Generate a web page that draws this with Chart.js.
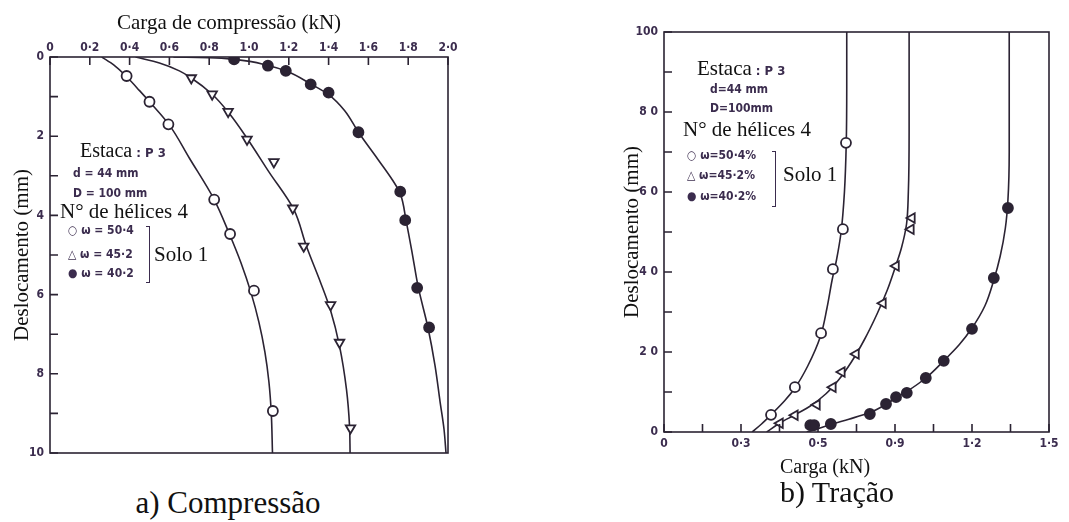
<!DOCTYPE html>
<html>
<head>
<meta charset="utf-8">
<script src="https://cdn.jsdelivr.net/npm/chart.js@4.4.1/dist/chart.umd.min.js"></script>
<style>
body{margin:0;background:#fff}
#wrap{position:relative;width:1069px;height:522px;overflow:hidden;background:#fff}
.box{position:absolute}
.t{position:absolute;white-space:nowrap;line-height:1;color:#111}
.serif{font-family:"Liberation Serif","Times New Roman",serif}
.sans{font-family:"Liberation Sans Narrow","DejaVu Sans Condensed",sans-serif;font-weight:bold;color:#3b2c4e;font-size:12px}
.brk{position:absolute;border:1.5px solid #3b2c4e;border-left:none}
</style>
</head>
<body>
<div id="wrap">
  <div class="box" style="left:0;top:0"><canvas id="comp" width="480" height="480"></canvas></div>
  <div class="box" style="left:560px;top:0"><canvas id="trac" width="509" height="480"></canvas></div>

  <!-- a) compressao -->
  <div class="t serif" style="left:229px;top:12px;font-size:21px;transform:translateX(-50%)">Carga de compressão (kN)</div>
  <div class="t serif" style="left:80px;top:140px;font-size:20px">Estaca<span class="sans" style="font-size:13px"> : P 3</span></div>
  <div class="t sans" style="left:73px;top:167px">d = 44 mm</div>
  <div class="t sans" style="left:73px;top:187px">D = 100 mm</div>
  <div class="t serif" style="left:60px;top:201px;font-size:21px">N° de hélices 4</div>
  <div class="t sans" style="left:68px;top:224px">○ ω = 50·4</div>
  <div class="t sans" style="left:68px;top:248px">△ ω = 45·2</div>
  <div class="t sans" style="left:68px;top:267px">● ω = 40·2</div>
  <div class="brk" style="left:146px;top:226px;width:3px;height:55px"></div>
  <div class="t serif" style="left:154px;top:244px;font-size:21px">Solo 1</div>
  <div class="t serif" style="left:228px;top:487px;font-size:31px;transform:translateX(-50%)">a) Compressão</div>

  <!-- b) tracao -->
  <div class="t serif" style="left:697px;top:58px;font-size:21px">Estaca<span class="sans" style="font-size:13px"> : P 3</span></div>
  <div class="t sans" style="left:710px;top:83px">d=44 mm</div>
  <div class="t sans" style="left:710px;top:102px">D=100mm</div>
  <div class="t serif" style="left:683px;top:119px;font-size:21px">N° de hélices 4</div>
  <div class="t sans" style="left:687px;top:149px">○ ω=50·4%</div>
  <div class="t sans" style="left:687px;top:169px">△ ω=45·2%</div>
  <div class="t sans" style="left:687px;top:190px">● ω=40·2%</div>
  <div class="brk" style="left:772px;top:151px;width:3px;height:54px"></div>
  <div class="t serif" style="left:783px;top:164px;font-size:21px">Solo 1</div>
  <div class="t serif" style="left:825px;top:456px;font-size:20px;transform:translateX(-50%)">Carga (kN)</div>
  <div class="t serif" style="left:837px;top:477px;font-size:30px;transform:translateX(-50%)">b) Tração</div>
</div>

<script>
// tick values and labels
var compTicksX = [0, 0.2, 0.4, 0.6, 0.8, 1.0, 1.2, 1.4, 1.6, 1.8, 2.0];
var compLabelsX = ['0', '0·2', '0·4', '0·6', '0·8', '1·0', '1·2', '1·4', '1·6', '1·8', '2·0'];
var compTicksY = [0, 1, 2, 3, 4, 5, 6, 7, 8, 9, 10];
var compLabelsY = ['0', '', '2', '', '4', '', '6', '', '8', '', '10'];

var tracTicksX = [0, 0.15, 0.3, 0.45, 0.6, 0.75, 0.9, 1.05, 1.2, 1.35, 1.5];
var tracLabelsX = ['0', '', '0·3', '', '0·5', '', '0·9', '', '1·2', '', '1·5'];
var tracTicksY = [0, 10, 20, 30, 40, 50, 60, 70, 80, 90, 100];
var tracLabelsY = ['0', '', '2 0', '', '4 0', '', '6 0', '', '8 0', '', '100'];

// compressao: [carga kN, deslocamento mm]
var compPts50 = [[0.385,0.48],[0.5,1.13],[0.595,1.7],[0.825,3.6],[0.905,4.47],[1.025,5.9],[1.12,8.94]];
var compPts45 = [[0.71,0.53],[0.815,0.94],[0.895,1.38],[0.99,2.08],[1.125,2.65],[1.22,3.82],[1.275,4.78],[1.41,6.26],[1.455,7.21],[1.51,9.37]];
var compPts40 = [[0.925,0.06],[1.095,0.22],[1.185,0.35],[1.31,0.69],[1.4,0.9],[1.55,1.9],[1.76,3.4],[1.785,4.12],[1.845,5.83],[1.905,6.83]];
var compCurve50 = [[0.26,0],[0.32,0.2],[0.385,0.5],[0.45,0.85],[0.5,1.13],[0.6,1.72],[0.7,2.55],[0.825,3.6],[0.9,4.45],[0.96,5.2],[1.01,5.95],[1.05,6.7],[1.08,7.45],[1.1,8.2],[1.112,9],[1.118,10]];
var compCurve45 = [[0.43,0],[0.55,0.15],[0.65,0.35],[0.71,0.53],[0.815,0.94],[0.9,1.42],[0.99,2.05],[1.1,2.9],[1.225,3.85],[1.29,4.8],[1.36,5.7],[1.41,6.4],[1.455,7.3],[1.49,8.4],[1.505,9.3],[1.508,10]];
var compCurve40 = [[0.62,0],[0.8,0.02],[0.925,0.06],[1.1,0.22],[1.19,0.36],[1.31,0.68],[1.4,0.95],[1.48,1.35],[1.55,1.9],[1.65,2.6],[1.72,3.1],[1.76,3.45],[1.79,4.15],[1.82,4.95],[1.85,5.8],[1.9,6.85],[1.935,7.8],[1.96,8.7],[1.98,9.4],[1.99,10]];

// tracao: [carga kN, deslocamento mm]
var tracPts50 = [[0.417,4.3],[0.51,11.2],[0.612,24.7],[0.658,40.7],[0.697,50.7],[0.709,72.3]];
var tracPts45 = [[0.452,2.2],[0.51,4.2],[0.596,6.8],[0.658,11.2],[0.693,15],[0.748,19.5],[0.853,32.2],[0.904,41.5],[0.962,50.7],[0.966,53.5]];
var tracPts40 = [[0.57,1.7],[0.585,1.7],[0.65,2],[0.802,4.5],[0.865,7],[0.904,8.7],[0.946,9.8],[1.02,13.5],[1.09,17.8],[1.2,25.8],[1.285,38.5],[1.34,56]];
var tracCurve50 = [[0.343,0],[0.38,2],[0.42,4.5],[0.47,7.8],[0.51,11],[0.56,16.5],[0.61,24],[0.635,31],[0.655,38],[0.672,43],[0.69,50],[0.703,60],[0.71,72],[0.712,86],[0.712,100]];
var tracCurve45 = [[0.4,0],[0.45,2.2],[0.51,4.3],[0.57,6.5],[0.63,9.5],[0.68,13],[0.73,17.5],[0.78,23],[0.83,29.5],[0.87,35.5],[0.9,41],[0.925,46],[0.945,52],[0.952,60],[0.955,75],[0.955,100]];
var tracCurve40 = [[0.556,0],[0.6,0.8],[0.65,1.9],[0.72,3.2],[0.8,4.8],[0.86,6.7],[0.9,8.4],[0.95,10.3],[1.02,13.5],[1.09,17.8],[1.15,21.8],[1.2,26],[1.25,31.5],[1.285,38],[1.31,44],[1.33,51],[1.34,58],[1.345,70],[1.345,100]];

var ink = '#2b2333';
var labelInk = '#3b2c4e';
var tickFont = {family: "'Liberation Sans Narrow', 'DejaVu Sans Condensed', sans-serif", size: 12, weight: 'bold'};
var titleFont = {family: "'Liberation Serif', 'Times New Roman', serif", size: 21};

function xy(arr) {
    return arr.map(function (p) { return {x: p[0], y: p[1]}; });
}

function pointSet(arr, style, filled, rot) {
    return {
        data: xy(arr), showLine: false,
        pointStyle: style, pointRotation: rot || 0,
        pointRadius: style == 'triangle' ? 5.5 : 5,
        pointBorderWidth: 1.8,
        pointBorderColor: ink,
        pointBackgroundColor: filled ? ink : '#fff'
    };
}

// curves are smoothed along the displacement axis
function curveSet(arr) {
    return {
        data: xy(arr), showLine: true, pointRadius: 0,
        indexAxis: 'y', cubicInterpolationMode: 'monotone',
        borderColor: ink, borderWidth: 1.6
    };
}

function fixTicks(values, labels) {
    return {
        afterBuildTicks: function (s) { s.ticks = values.map(function (v) { return {value: v}; }); },
        callback: function (v, i) { return labels[i]; }
    };
}

// frame and inward tick marks
var frameTicks = {
    id: 'frameTicks',
    afterDraw(chart) {
        var ctx = chart.ctx, a = chart.chartArea;
        var xs = chart.scales.x, ys = chart.scales.y;
        ctx.save();
        ctx.strokeStyle = ink;
        ctx.lineWidth = 1.6;
        ctx.strokeRect(a.left, a.top, a.right - a.left, a.bottom - a.top);
        ctx.beginPath();
        xs.ticks.forEach(function (t) {
            var px = xs.getPixelForValue(t.value);
            if (xs.position == 'top') { ctx.moveTo(px, a.top); ctx.lineTo(px, a.top + 8); }
            else { ctx.moveTo(px, a.bottom); ctx.lineTo(px, a.bottom - 8); }
        });
        ys.ticks.forEach(function (t) {
            var py = ys.getPixelForValue(t.value);
            ctx.moveTo(a.left, py); ctx.lineTo(a.left + 8, py);
        });
        ctx.stroke();
        ctx.restore();
    }
};

function scaleBase(min, max, size, values, labels, pad, isX) {
    var f = fixTicks(values, labels);
    return {
        type: 'linear', min: min, max: max,
        afterBuildTicks: f.afterBuildTicks,
        afterFit: function (s) {
            if (isX) { s.height = size; } else { s.width = size; }
            s.paddingLeft = 0; s.paddingRight = 0; s.paddingTop = 0; s.paddingBottom = 0;
        },
        grid: {display: false, drawTicks: false},
        border: {display: false},
        ticks: {callback: f.callback, font: tickFont, color: labelInk, padding: pad, autoSkip: false, maxRotation: 0}
    };
}

function makeChart(id, sets, xScale, yScale, padding) {
    return new Chart(document.getElementById(id), {
        type: 'scatter',
        data: {datasets: sets},
        options: {
            responsive: false, animation: false,
            layout: {padding: padding},
            plugins: {legend: {display: false}, tooltip: {enabled: false}},
            scales: {x: xScale, y: yScale}
        },
        plugins: [frameTicks]
    });
}

var cx = scaleBase(0, 2, 57, compTicksX, compLabelsX, 2, true);
cx.position = 'top';
var cy = scaleBase(0, 10, 50, compTicksY, compLabelsY, 6, false);
cy.reverse = true;
cy.title = {display: true, text: 'Deslocamento (mm)', font: titleFont, color: '#111', padding: {top: 10, bottom: 0}};

makeChart('comp', [
    pointSet(compPts50, 'circle', false),
    pointSet(compPts45, 'triangle', false, 180),
    pointSet(compPts40, 'circle', true),
    curveSet(compCurve50),
    curveSet(compCurve45),
    curveSet(compCurve40)
], cx, cy, {left: 0, top: 0, right: 32, bottom: 27});

var tx = scaleBase(0, 1.5, 48, tracTicksX, tracLabelsX, 5, true);
tx.position = 'bottom';
var ty = scaleBase(0, 100, 104, tracTicksY, tracLabelsY, 6, false);
ty.title = {display: true, text: 'Deslocamento (mm)', font: titleFont, color: '#111', padding: {top: 60, bottom: 0}};

makeChart('trac', [
    pointSet(tracPts50, 'circle', false),
    pointSet(tracPts45, 'triangle', false, 270),
    pointSet(tracPts40, 'circle', true),
    curveSet(tracCurve50),
    curveSet(tracCurve45),
    curveSet(tracCurve40)
], tx, ty, {left: 0, top: 32, right: 20, bottom: 0});
</script>
</body>
</html>
